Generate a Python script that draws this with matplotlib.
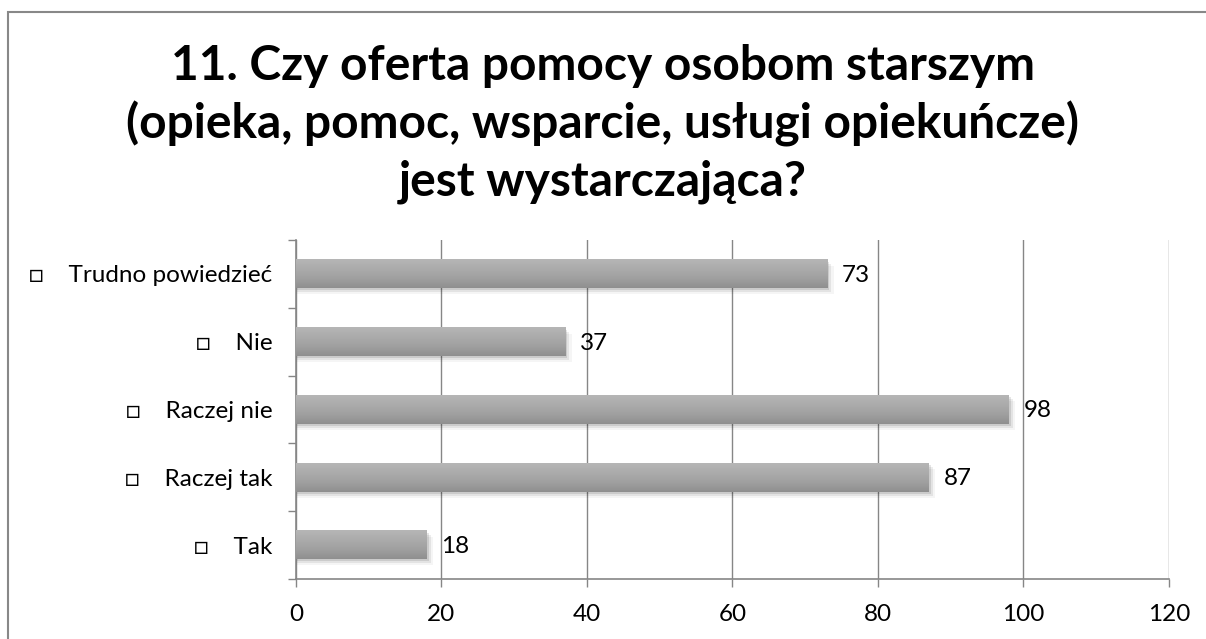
import numpy as np
import matplotlib
matplotlib.use("Agg")
import matplotlib.pyplot as plt
from matplotlib.patches import Rectangle
from matplotlib.colors import LinearSegmentedColormap

categories = ["Tak", "Raczej tak", "Raczej nie", "Nie", "Trudno powiedzieć"]
values = [18, 87, 98, 37, 73]
xticks = [0, 20, 40, 60, 80, 100, 120]
title = "11. Czy oferta pomocy osobom starszym\n(opieka, pomoc, wsparcie, usługi opiekuńcze)\njest wystarczająca?"

plt.rcParams["font.family"] = ["Lato", "DejaVu Sans"]

fig = plt.figure(figsize=(12.06, 6.39), dpi=100)
ax = fig.add_axes([0.2454, 0.0939, 0.9693 - 0.2454, 0.6244 - 0.0939])

grey = "#868686"
bar_h = 0.42
# lighter on top, darker at the bottom
cmap = LinearSegmentedColormap.from_list("bar", ["#b6b6b6", "#ababab", "#a0a0a0", "#8f8f8f"])
grad = np.linspace(0, 1, 64).reshape(-1, 1)

for i, v in enumerate(values):
    # soft shadow under the bar
    for k, a in enumerate([0.10, 0.07, 0.04]):
        d = 0.03 + k * 0.03
        ax.add_patch(Rectangle((0, i - bar_h / 2 - d), v + 0.3 + k * 0.3, bar_h,
                               facecolor="black", alpha=a, lw=0, zorder=2))
    ax.imshow(grad, extent=(0, v, i - bar_h / 2, i + bar_h / 2), cmap=cmap,
              aspect="auto", zorder=3, interpolation="bilinear")
    ax.text(v + 2, i - 0.02, str(v), va="center", ha="left", fontsize=17.5, color="black", zorder=4)

ax.set_xlim(0, 120)
ax.set_ylim(-0.5, len(categories) - 0.5)
ax.set_xticks(xticks)
ax.set_xticklabels([str(t) for t in xticks], fontsize=17.5)
ax.set_yticks(range(len(categories)))
ax.set_yticklabels(["□    " + c for c in categories], fontsize=17.5)
ax.set_yticks(np.arange(-0.5, len(categories), 1), minor=True)
ax.tick_params(axis="y", which="major", length=0, pad=17)
ax.tick_params(axis="y", which="minor", length=6, color=grey, width=1)
ax.tick_params(axis="x", length=6, color=grey, width=1, pad=12)

ax.grid(axis="x", color=grey, lw=1, zorder=1)
ax.set_axisbelow(True)
for s in ["top", "right"]:
    ax.spines[s].set_visible(False)
for s in ["left", "bottom"]:
    ax.spines[s].set_color(grey)
    ax.spines[s].set_linewidth(1.2)

fig.text(0.5, 1 - 44 / 639, title, ha="center", va="top", fontsize=34.5, fontweight="bold",
         linespacing=1.34)

fig.patches.append(Rectangle((8 / 1206, -0.1), 1.2, 1 - 12 / 639 + 0.1, transform=fig.transFigure,
                             fill=False, edgecolor="#888888", lw=1.5))

fig.savefig("out.png", dpi=100)
